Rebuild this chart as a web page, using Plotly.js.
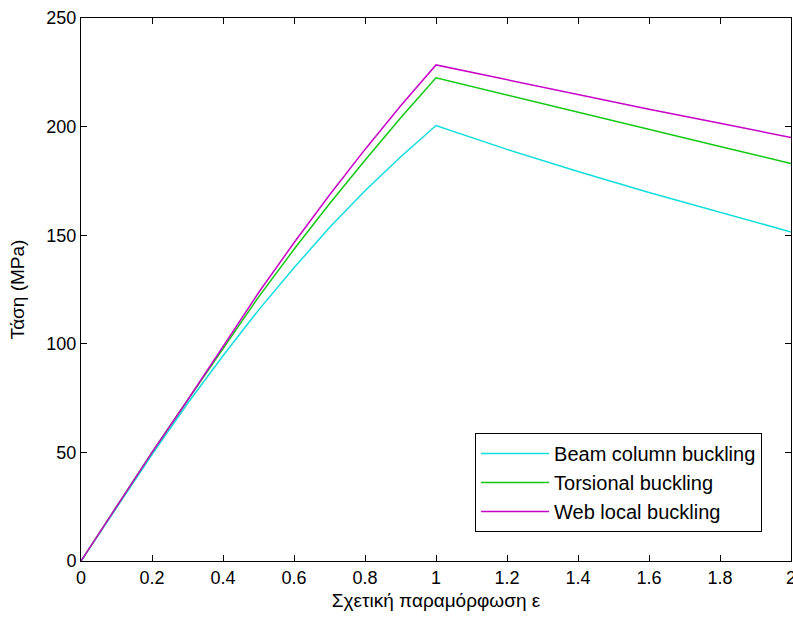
<!DOCTYPE html>
<html><head><meta charset="utf-8">
<script src="https://cdn.plot.ly/plotly-3.0.1.min.js"></script>
<style>html,body{margin:0;padding:0;background:#fff}</style>
</head><body>
<div id="chart" style="width:793px;height:619px"></div>
<script>
const strain = [0,0.1,0.2,0.3,0.4,0.5,0.6,0.7,0.8,0.9,1.0,1.2,1.4,1.6,1.8,2.0];
const beamColumn = [0,24.5,49,72.5,94.5,115.5,135,153.5,170.5,186,200.5,189.5,179.3,169.7,160.5,151.5];
const torsional = [0,25,50,74,98,121.5,143.5,164.5,184.5,204,222.5,214.5,206.5,198.6,190.8,183];
const webLocal = [0,25,50,74,98.5,123.5,146.5,168.5,189.5,209.5,228.4,221.5,214.8,208,201.5,195];
const seriesNames = ['Beam column buckling','Torsional buckling','Web local buckling'];
const xTicks = [0,0.2,0.4,0.6,0.8,1,1.2,1.4,1.6,1.8,2];
const xTickText = ['0','0.2','0.4','0.6','0.8','1','1.2','1.4','1.6','1.8','2'];
const yTicks = [0,50,100,150,200,250];

const colors = ['#11dddd','#11c811','#c800c8'];
const ys = [beamColumn, torsional, webLocal];
const traces = ys.map((y,i)=>({x:strain,y:y,type:'scatter',mode:'lines',name:seriesNames[i],
  line:{color:colors[i],width:1.5}}));

const fam = 'Liberation Sans, Arial, sans-serif';
const tickFont = {family:fam,size:18,color:'#000'};
const titleFont = {family:fam,size:19,color:'#000'};
const layout = {
  width:793,height:619,
  margin:{l:81,r:2,t:18,b:58},
  paper_bgcolor:'#fff',plot_bgcolor:'#fff',
  font:tickFont,
  xaxis:{range:[0,2],tickvals:xTicks,ticktext:xTickText,ticks:'inside',ticklen:6,tickcolor:'#000',
    showline:true,linecolor:'#000',linewidth:1,mirror:'allticks',showgrid:false,zeroline:false,
    ticklabeloverflow:'allow',
    tickfont:tickFont,title:{text:'Σχετική παραμόρφωση ε',font:titleFont,standoff:7}},
  yaxis:{range:[0,250],tickvals:yTicks,ticks:'inside',ticklen:6,tickcolor:'#000',
    showline:true,linecolor:'#000',linewidth:1,mirror:'allticks',showgrid:false,zeroline:false,
    ticklabeloverflow:'allow',
    tickfont:tickFont,title:{text:'Τάση (MPa)',font:titleFont,standoff:16}},
  showlegend:true,
  legend:{x:0.555,y:0.2357,xanchor:'left',yanchor:'top',bgcolor:'#fff',bordercolor:'#000',borderwidth:1,
    font:{family:fam,size:20,color:'#000'},itemwidth:68,tracegroupgap:0}
};
Plotly.newPlot('chart',traces,layout,{displayModeBar:false});
</script>
</body></html>
